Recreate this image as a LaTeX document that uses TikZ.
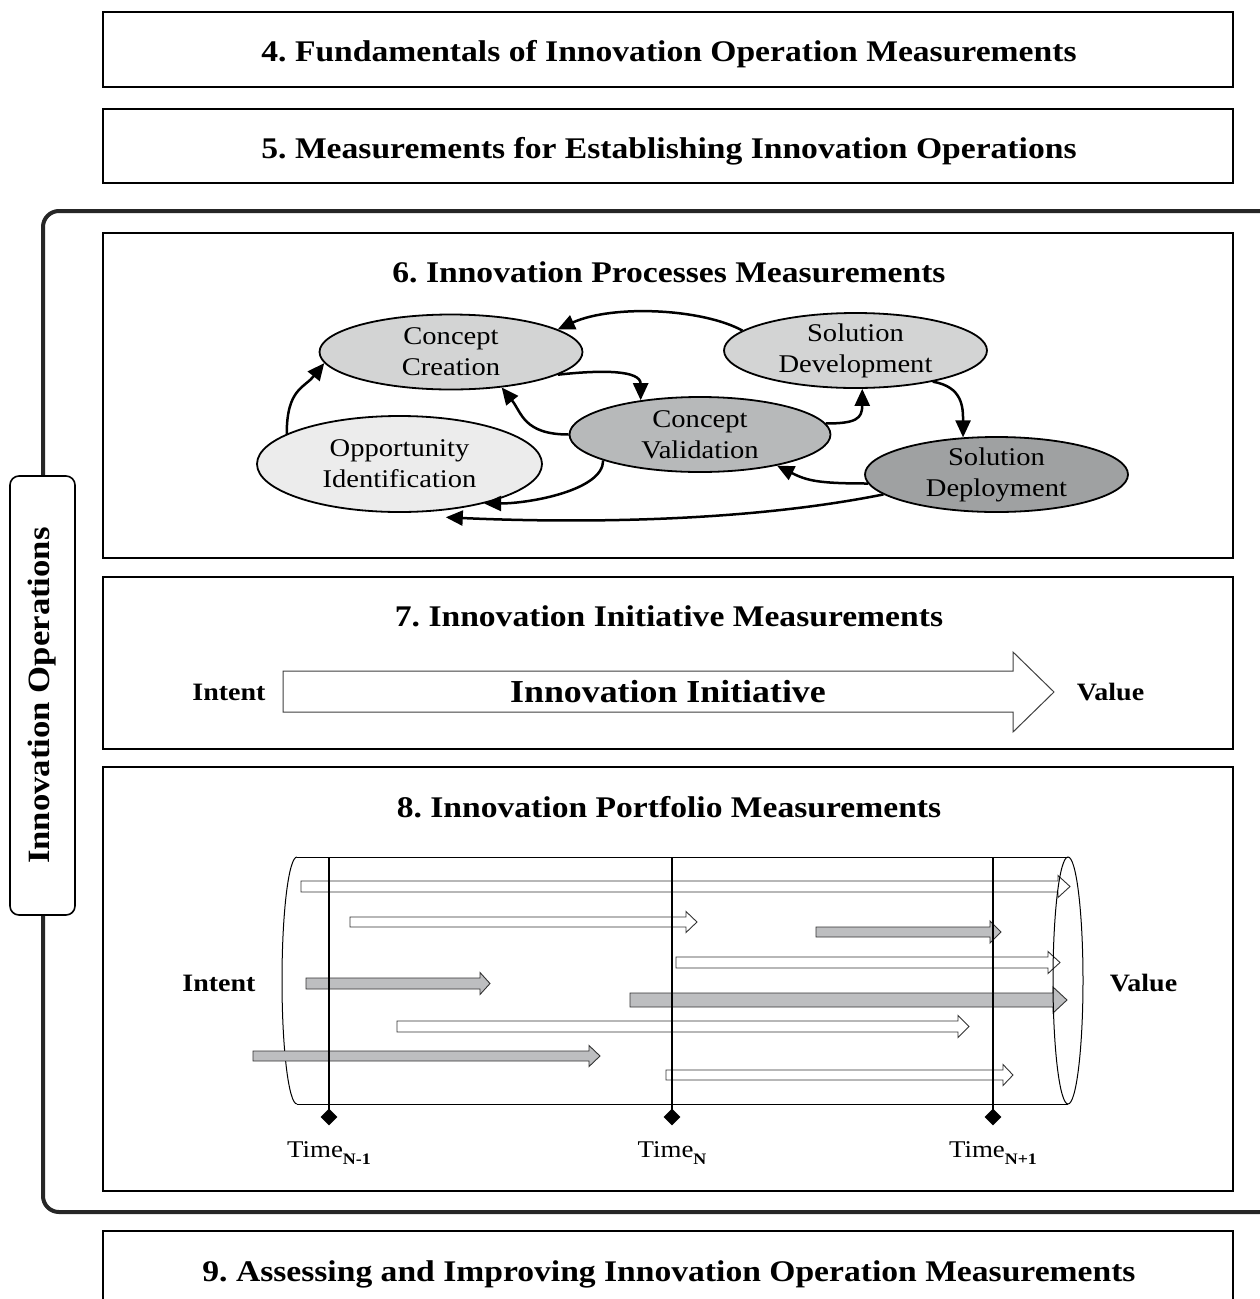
\documentclass[tikz,border=0pt]{standalone}
\usepackage{fontspec}
\setmainfont[FakeStretch=1.12]{Liberation Serif}
\usetikzlibrary{arrows.meta,shapes.geometric}
\definecolor{ccfill}{HTML}{D3D4D4}
\definecolor{oifill}{HTML}{ECECEC}
\definecolor{cvfill}{HTML}{B7B9BA}
\definecolor{sdfill}{HTML}{D3D4D4}
\definecolor{dpfill}{HTML}{9FA1A2}
\definecolor{barg}{HTML}{BDBEC0}
\newcommand\blockarr[7]{\draw[#1] (#2,{-#4+#5}) -- ({#3-#7},{-#4+#5}) -- ({#3-#7},{-#4+#6}) -- (#3,-#4) -- ({#3-#7},{-#4-#6}) -- ({#3-#7},{-#4-#5}) -- (#2,{-#4-#5}) -- cycle;}
\frenchspacing
\begin{document}
\begin{tikzpicture}[x=1pt,y=1pt,
  sect/.style={draw,line width=1.8pt,inner sep=0pt},
  ttl/.style={font=\fontsize{30}{36}\selectfont\bfseries,anchor=base,inner sep=0pt},
  proc/.style={ellipse,draw,line width=1.8pt,inner sep=0pt,minimum width=263pt,minimum height=75pt},
  ptxt/.style={align=center,font=\fontsize{25.5}{31}\selectfont},
  flow/.style={line width=2.5pt,-{Triangle[length=17pt,width=15pt]}},
  lbl/.style={font=\fontsize{25}{30}\selectfont\bfseries,anchor=base,inner sep=0pt},
  wbar/.style={draw=black!80,line width=0.9pt,fill=white},
  gbar/.style={draw=black!80,line width=0.9pt,fill=barg},
  tline/.style={line width=1.4pt},
  tick/.style={diamond,fill=black,inner sep=0pt,minimum size=17pt},
  tlab/.style={font=\fontsize{24}{28}\selectfont,anchor=base,inner sep=0pt},
]
\path[use as bounding box] (0,0) rectangle (1260,-1299);
\clip (0,0) rectangle (1260,-1299);
\fill[white] (0,0) rectangle (1260,-1299);

% outer frame
\draw[line width=4pt,draw=black!85,rounded corners=16pt] (43,-211) rectangle (1300,-1212);

% boxes 4 and 5
\node[sect,minimum width=1130pt,minimum height=75pt] (b4) at (668,-49.5) {};
\node[ttl] (t4) at (669,-61) {4. Fundamentals of Innovation Operation Measurements};
\node[sect,minimum width=1130pt,minimum height=74pt] (b5) at (668,-146) {};
\node[ttl] (t5) at (669,-158) {5. Measurements for Establishing Innovation Operations};

% box 6
\node[sect,fill=white,minimum width=1130pt,minimum height=325pt] (b6) at (668,-395.5) {};
\node[ttl] (t6) at (669,-282) {6. Innovation Processes Measurements};

\node[proc,fill=ccfill,label={[ptxt]center:{Concept\\Creation}}] (cc) at (451,-352) {};
\node[proc,fill=oifill,minimum width=285pt,minimum height=96pt,label={[ptxt]center:{Opportunity\\Identification}}] (oi) at (399.5,-464) {};
\node[proc,fill=cvfill,minimum width=261pt,label={[ptxt]center:{Concept\\Validation}}] (cv) at (700,-434.5) {};
\node[proc,fill=sdfill,label={[ptxt]center:{Solution\\Development}}] (sd) at (855.5,-350.5) {};
\node[proc,fill=dpfill,label={[ptxt]center:{Solution\\Deployment}}] (dp) at (996.5,-474.5) {};

\draw[flow] (sd.170) .. controls +(-40,22) and +(55,25) .. (cc.12);
\draw[flow] (cc.-12) .. controls +(45,5) and +(0,30) .. (cv.150);
\draw[flow] (cv.180) .. controls +(-45,0) and +(20,-25) .. (cc.-35);
\draw[flow] (cv.5) .. controls +(30,0) and +(0,-30) .. (sd.-80);
\draw[flow] (sd.-22) .. controls +(30,-5) and +(0,30) .. (dp.132);
\draw[flow] (dp.184) .. controls +(-50,0) and +(30,-15) .. (cv.-22);
\draw[flow] (cv.-165) .. controls +(0,-30) and +(45,0) .. (oi.-25);
\draw[flow] (dp.190) .. controls +(-150,-30) and +(110,-5) .. ([yshift=-7pt]oi.-45);
\draw[flow] (oi.165) .. controls +(0,45) and +(-20,-25) .. (cc.185);

% box 7
\node[sect,minimum width=1130pt,minimum height=172pt] (b7) at (668,-663) {};
\node[ttl] (t7) at (669,-626) {7. Innovation Initiative Measurements};
\node[lbl] (i7) at (229,-700) {Intent};
\node[lbl] (v7) at (1110.5,-700) {Value};
\draw[line width=1pt,draw=black!75,fill=white] (283,-671) -- (1013,-671) -- (1013,-652) -- (1054,-692) -- (1013,-732) -- (1013,-712) -- (283,-712) -- cycle;
\node[font=\fontsize{32}{36}\selectfont\bfseries,anchor=base,inner sep=0pt] (ii) at (668,-702) {Innovation Initiative};

% box 8
\node[sect,minimum width=1130pt,minimum height=424pt] (b8) at (668,-979) {};
\node[ttl] (t8) at (669,-817) {8. Innovation Portfolio Measurements};
\node[lbl] (i8) at (219,-991) {Intent};
\node[lbl] (v8) at (1143.5,-991) {Value};

% cylinder
\draw[line width=1pt] (297,-857) -- (1068,-857);
\draw[line width=1pt] (297,-1104) -- (1068,-1104);
\draw[line width=1pt] (297,-857) arc[start angle=90,end angle=270,x radius=15,y radius=123.5];

% portfolio bars
\blockarr{wbar}{301}{1070}{886.5}{5.5}{11}{12}
\blockarr{wbar}{350}{697}{922}{5}{10.5}{11}
\blockarr{gbar}{816}{1001}{932}{5}{11}{11}
\blockarr{wbar}{676}{1060}{962.5}{5.5}{11}{12}
\blockarr{gbar}{306}{490}{983.5}{5.5}{11}{10}
\blockarr{gbar}{630}{1067}{1000}{7}{13}{14}
\blockarr{wbar}{397}{969}{1026.5}{5.5}{11}{11}
\blockarr{gbar}{253}{600}{1056}{5}{10.5}{11}
\blockarr{wbar}{666}{1013}{1075}{5}{10.5}{10}

\draw[line width=1pt] (1068,-980.5) ellipse[x radius=15,y radius=123.5];

% time lines
\node[tick] (d1) at (329,-1117) {};
\node[tick] (d2) at (672,-1117) {};
\node[tick] (d3) at (993,-1117) {};
\coordinate (u1) at (329,-857);
\coordinate (u2) at (672,-857);
\coordinate (u3) at (993,-857);
\draw[tline] (u1) -- (d1.center);
\draw[tline] (u2) -- (d2.center);
\draw[tline] (u3) -- (d3.center);
\node[tlab] (l1) at (329,-1157) {Time\raisebox{-7pt}{\fontsize{16}{16}\selectfont\bfseries N-1}};
\node[tlab] (l2) at (672,-1157) {Time\raisebox{-7pt}{\fontsize{16}{16}\selectfont\bfseries N}};
\node[tlab] (l3) at (993,-1157) {Time\raisebox{-7pt}{\fontsize{16}{16}\selectfont\bfseries N+1}};

% box 9
\node[sect,minimum width=1130pt,minimum height=100pt] (b9) at (668,-1281) {};
\node[ttl] (t9) at (669,-1281) {9. Assessing and Improving Innovation Operation Measurements};

% side label
\node[draw,line width=1.6pt,fill=white,rounded corners=9pt,rotate=90,minimum width=439pt,minimum height=65pt,inner sep=0pt,font=\fontsize{31}{36}\selectfont\bfseries] (io) at (42.5,-695.5) {Innovation Operations};
\end{tikzpicture}
\end{document}
